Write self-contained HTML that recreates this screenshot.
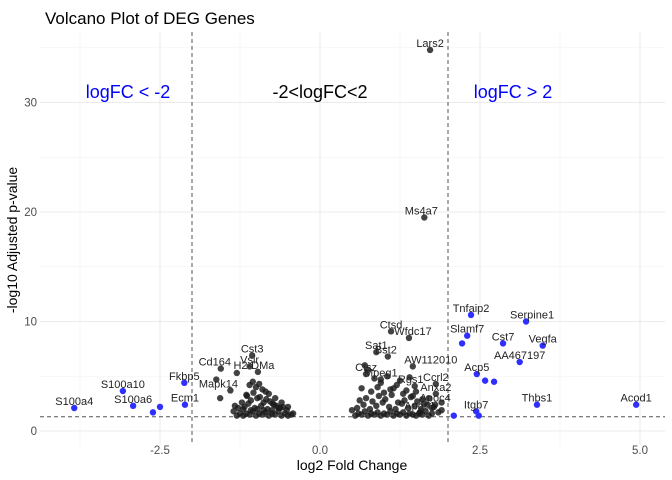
<!DOCTYPE html>
<html><head><meta charset="utf-8">
<style>
html,body{margin:0;padding:0;background:#fff;}
svg{display:block;font-family:"Liberation Sans",sans-serif;}
</style></head>
<body>
<svg id="chart" width="672" height="480" viewBox="0 0 672 480">
<text x="45" y="24" font-size="17" fill="#000">Volcano Plot of DEG Genes</text>
<g id="grid"></g>
<g id="guides"></g>
<g id="pts"></g>
<g id="labels"></g>
<g id="axes"></g>
<text x="128" y="98" font-size="18" fill="#0000ff" text-anchor="middle">logFC &lt; -2</text>
<text x="320" y="98" font-size="18" fill="#000" text-anchor="middle">-2&lt;logFC&lt;2</text>
<text x="513" y="98" font-size="18" fill="#0000ff" text-anchor="middle">logFC &gt; 2</text>
<text x="352" y="470" font-size="14" fill="#000" text-anchor="middle">log2 Fold Change</text>
<text x="0" y="0" font-size="14" fill="#000" text-anchor="middle" transform="translate(17,240) rotate(-90)">-log10 Adjusted p-value</text>
</svg>
<script>
const xTicks=[-2.5,0,2.5,5];
const xTickLabels=["-2.5","0.0","2.5","5.0"];
const yTicks=[0,10,20,30];
const xMinor=[-3.75,-1.25,1.25,3.75];
const yMinor=[5,15,25,35];
const upX=[2.36,3.22,2.30,2.22,2.86,3.48,3.12,2.45,2.58,2.72,3.39,4.94,2.44,2.48,2.09];
const upY=[10.6,10.0,8.7,8.0,8.0,7.8,6.3,5.2,4.6,4.5,2.4,2.4,1.8,1.4,1.4];
const upLab=["Tnfaip2","Serpine1","Slamf7","","Cst7","Vegfa","AA467197","Acp5","","","Thbs1","Acod1","Itgb7","",""];
const downX=[-3.84,-3.08,-2.92,-2.61,-2.5,-2.12,-2.11];
const downY=[2.1,3.65,2.3,1.7,2.2,4.4,2.4];
const downLab=["S100a4","S100a10","S100a6","","","Fkbp5","Ecm1"];
const nsX=[1.72,1.63,-1.06,-1.1,-1.55,-0.97,-1.62,-1.3,-1.56,-1.4,1.11,1.39,0.88,1.06,1.45,0.72,0.95,1.81,1.48,1.81,1.8,1.56,
-1.2,-1.15,-1.1,-1.05,-1.0,-0.95,-0.9,-0.85,-0.8,-0.75,-0.7,-0.65,-0.6,-0.55,-0.5,-0.45,-1.25,-1.3,-1.35,
-1.18,-1.12,-1.02,-0.92,-0.82,-0.72,-0.62,-0.52,-1.08,-0.98,-0.88,-0.78,-0.68,-0.58,-1.22,-1.14,-1.04,-0.94,-0.84,-0.74,
-1.0,-0.9,-1.1,-0.8,-0.7,-1.05,-0.95,-0.85,-1.15,-0.6,-1.2,-0.75,-0.65,-0.88,-0.98,-1.08,-0.5,-1.28,-1.33,-0.42,
0.55,0.6,0.65,0.7,0.75,0.8,0.85,0.9,0.95,1.0,1.05,1.1,1.15,1.2,1.25,1.3,1.35,1.4,1.45,1.5,1.55,1.6,1.65,1.7,1.75,1.85,1.9,
0.58,0.68,0.78,0.88,0.98,1.08,1.18,1.28,1.38,1.48,1.58,1.68,1.78,0.62,0.72,0.82,0.92,1.02,1.12,1.22,1.32,1.42,1.52,1.62,
0.8,0.9,1.0,1.1,1.2,1.3,0.85,0.95,1.05,1.15,1.25,1.35,1.45,0.7,0.75,1.6,1.7,1.4,1.5,1.9,0.65,1.75,0.5],
nsY=[34.8,19.5,6.9,5.9,5.7,5.4,4.7,5.3,3.0,3.7,9.1,8.5,7.2,6.8,5.9,5.2,4.7,4.3,4.1,3.4,2.4,1.7,
1.4,1.6,1.5,1.8,1.4,1.6,1.5,1.7,1.4,1.6,1.5,1.8,1.4,1.6,1.4,1.5,1.6,1.4,1.8,
2.2,2.5,2.1,2.3,2.0,2.4,2.1,1.9,2.8,3.0,2.6,2.7,2.3,2.2,2.6,3.2,3.5,3.1,2.9,2.5,
4.0,3.8,4.2,3.4,3.0,4.5,4.3,3.6,3.3,2.6,2.0,1.9,2.1,1.9,2.0,1.9,2.2,2.1,2.3,1.6,
1.4,1.6,1.5,1.8,1.4,1.6,1.5,1.7,1.4,1.6,1.5,1.8,1.4,1.6,1.5,1.7,1.4,1.6,1.5,1.4,1.6,1.5,1.8,1.4,1.6,1.7,1.9,
2.1,2.4,2.0,2.3,2.6,2.2,2.0,2.5,2.1,2.3,2.0,2.4,2.2,2.8,3.0,2.7,3.2,2.9,3.3,2.6,2.8,3.1,2.7,2.5,
3.6,4.0,3.5,3.8,4.2,3.4,4.8,4.4,5.0,3.9,4.6,3.7,3.2,6.0,5.6,2.9,3.0,4.9,3.6,2.6,3.9,2.1,1.9];
const nsLab={0:"Lars2",1:"Ms4a7",2:"Cst3",3:"Vsir",4:"Cd164",5:"H2-DMa",9:"Mapk14",10:"Ctsd",11:"Wfdc17",12:"Sat1",13:"Bst2",14:"AW112010",15:"Ctsz",16:"Mpeg1",17:"Ccrl2",18:"Rgs1",19:"Anxa2",20:"Apoc4",21:"Apoc1"};
const labDx={"Lars2":0,"Ms4a7":-3,"Cst3":0,"Vsir":0,"Cd164":-6,"H2-DMa":-4,"Mapk14":-12,"Ctsd":0,"Wfdc17":4,"Sat1":0,"Bst2":-2,"AW112010":18,"Ctsz":0,"Mpeg1":0,"Ccrl2":0,"Rgs1":-4,"Anxa2":0,"Apoc4":0,"Apoc1":0,
"Tnfaip2":0,"Serpine1":6,"Slamf7":0,"Cst7":0,"Vegfa":0,"AA467197":0,"Acp5":0,"Thbs1":0,"Acod1":0,"Itgb7":0,"S100a4":0,"S100a10":0,"S100a6":0,"Fkbp5":0,"Ecm1":0};
const X0=320,XS=64,Y0=431,YS=10.95;
const sx=v=>X0+v*XS, sy=v=>Y0-v*YS;
const NS="http://www.w3.org/2000/svg";
function mk(tag,at,parent){const e=document.createElementNS(NS,tag);for(const k in at)e.setAttribute(k,at[k]);parent.appendChild(e);return e;}
const grid=document.getElementById('grid'),guides=document.getElementById('guides'),pts=document.getElementById('pts'),labs=document.getElementById('labels'),axes=document.getElementById('axes');
const L=40,R=665,T=32,B=445;
xMinor.forEach(v=>{const l=mk('line',{x1:sx(v),x2:sx(v),y1:T,y2:B,stroke:'#f0f0f0','stroke-width':0.6},grid);

});
yMinor.forEach(v=>{const l=mk('line',{x1:L,x2:R,y1:sy(v),y2:sy(v),stroke:'#f0f0f0','stroke-width':0.6},grid);

});
xTicks.forEach((v,i)=>{const l=mk('line',{x1:sx(v),x2:sx(v),y1:T,y2:B,stroke:'#ebebeb','stroke-width':1.1},grid);


const t=mk('text',{x:sx(v),y:454,'font-size':11.5,fill:'#4d4d4d','text-anchor':'middle'},axes);t.textContent=xTickLabels[i];

});
yTicks.forEach(v=>{const l=mk('line',{x1:L,x2:R,y1:sy(v),y2:sy(v),stroke:'#ebebeb','stroke-width':1.1},grid);


const t=mk('text',{x:37,y:sy(v)+4,'font-size':11.5,fill:'#4d4d4d','text-anchor':'end'},axes);t.textContent=String(v);

});
[-2,2].forEach(v=>{const l=mk('line',{x1:sx(v),x2:sx(v),y1:T,y2:B,stroke:'#555','stroke-width':1,'stroke-dasharray':'4,3'},guides);

});
{const l=mk('line',{x1:L,x2:R,y1:sy(1.3),y2:sy(1.3),stroke:'#555','stroke-width':1,'stroke-dasharray':'4,3'},guides);

}
function label(name,x,y){const t=mk('text',{x:sx(x)+(labDx[name]||0),y:sy(y)-3,'font-size':11,fill:'#222','text-anchor':'middle',stroke:'#fff','stroke-width':0,'paint-order':'stroke'},labs);t.textContent=name;

}
nsX.forEach((v,i)=>{const c=mk('circle',{cx:sx(v),cy:sy(nsY[i]),r:3.2,fill:'#1a1a1a','fill-opacity':0.82},pts);


if(nsLab[i])label(nsLab[i],v,nsY[i]);});
downX.forEach((v,i)=>{const c=mk('circle',{cx:sx(v),cy:sy(downY[i]),r:3.2,fill:'#2f2fff'},pts);


if(downLab[i])label(downLab[i],v,downY[i]);});
upX.forEach((v,i)=>{const c=mk('circle',{cx:sx(v),cy:sy(upY[i]),r:3.2,fill:'#2f2fff'},pts);


if(upLab[i])label(upLab[i],v,upY[i]);});
</script>
</body></html>
